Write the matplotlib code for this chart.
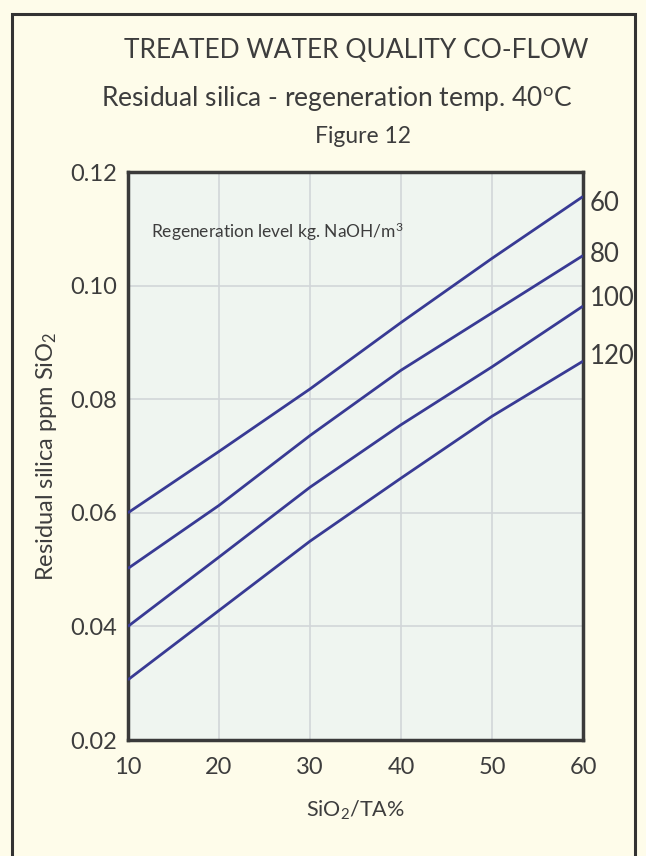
import matplotlib.pyplot as plt
from matplotlib.patches import Rectangle

# Данные
ratio = [10, 20, 30, 40, 50, 60]            # SiO2/TA %
levels = ['60', '80', '100', '120']         # kg NaOH/m3
silica_60 = [0.0600, 0.0708, 0.0818, 0.0935, 0.1048, 0.1157]
silica_80 = [0.0502, 0.0613, 0.0736, 0.0851, 0.0952, 0.1053]
silica_100 = [0.0400, 0.0522, 0.0645, 0.0755, 0.0857, 0.0964]
silica_120 = [0.0306, 0.0428, 0.0550, 0.0661, 0.0770, 0.0867]
label_y = [0.1145, 0.1055, 0.0977, 0.0875]  # позиции подписей справа

x_ticks = [10, 20, 30, 40, 50, 60]
y_ticks = [0.02, 0.04, 0.06, 0.08, 0.10, 0.12]

plt.rcParams['font.family'] = ['Lato', 'DejaVu Sans']
plt.rcParams['mathtext.fontset'] = 'custom'
plt.rcParams['mathtext.rm'] = 'Lato'
plt.rcParams['mathtext.it'] = 'Lato'

bg = '#fefcea'
text_col = '#3d3d3d'
line_col = '#383a94'

fig = plt.figure(figsize=(6.46, 8.56), dpi=100, facecolor=bg)
ax = fig.add_axes([0.198, 0.1355, 0.7045, 0.6635])
ax.set_facecolor('#eff5f0')

for s in [silica_60, silica_80, silica_100, silica_120]:
    ax.plot(ratio, s, color=line_col, lw=2, solid_capstyle='butt', zorder=3)

ax.set_xlim(10, 60)
ax.set_ylim(0.02, 0.12)
ax.set_xticks(x_ticks)
ax.set_yticks(y_ticks)
ax.set_xticklabels([str(v) for v in x_ticks])
ax.set_yticklabels(['%.2f' % v for v in y_ticks])
ax.tick_params(length=0, labelsize=17, colors=text_col)
ax.tick_params(axis='x', pad=12)
ax.tick_params(axis='y', pad=8)
ax.grid(True, color='#d2d6d9', lw=1.2)
ax.set_axisbelow(True)
for sp in ax.spines.values():
    sp.set_color('#3a3a3a')
    sp.set_linewidth(2.5)

# подписи кривых справа
for lab, yv in zip(levels, label_y):
    ax.annotate(lab, xy=(60, yv), xytext=(5, 0), textcoords='offset points',
                fontsize=18.5, color=text_col, va='center', ha='left',
                annotation_clip=False)

ax.text(12.5, 0.1095, 'Regeneration level kg. NaOH/m$^3$', fontsize=12.5,
        color=text_col, va='center', ha='left')

ax.set_xlabel('SiO$_2$/TA%', fontsize=15.5, color=text_col, labelpad=15)
ax.set_ylabel('Residual silica ppm SiO$_2$', fontsize=17, color=text_col, labelpad=8)

fig.text(0.551, 0.941, 'TREATED WATER QUALITY CO-FLOW', fontsize=19,
         color=text_col, ha='center', va='center')
fig.text(0.522, 0.885, 'Residual silica - regeneration temp. 40$^{\\rm o}$C',
         fontsize=19, color=text_col, ha='center', va='center')
fig.text(0.562, 0.841, 'Figure 12', fontsize=16.5, color=text_col,
         ha='center', va='center')

# рамка вокруг рисунка
fig.patches.append(Rectangle((12 / 646, -0.02), 623 / 646, 1.012 - 7 / 856,
                             transform=fig.transFigure, fill=False,
                             edgecolor='#333333', lw=2.2))

fig.savefig('out.png', dpi=100, facecolor=bg)
